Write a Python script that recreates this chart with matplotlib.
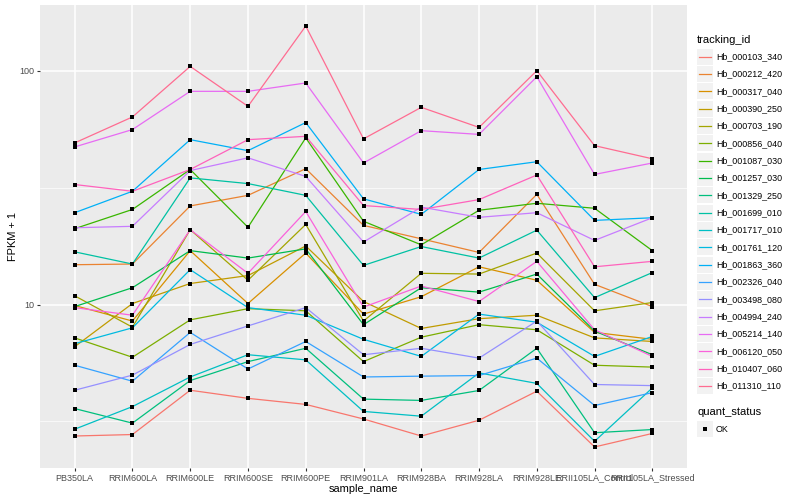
import numpy as np
import matplotlib
matplotlib.use("Agg")
import matplotlib.pyplot as plt
from matplotlib.lines import Line2D
from matplotlib.patches import Rectangle

plt.rcParams['font.family'] = ['Liberation Sans', 'DejaVu Sans']

samples = ['PB350LA', 'RRIM600LA', 'RRIM600LE', 'RRIM600SE', 'RRIM600PE',
           'RRIM901LA', 'RRIM928BA', 'RRIM928LA', 'RRIM928LE',
           'RRII105LA_Control', 'RRII105LA_Stressed']

# FPKM + 1 per sample
hb_000103_340 = [2.74, 2.78, 4.3, 3.97, 3.74, 3.24, 2.74, 3.2, 4.26, 2.46, 2.81]
hb_000212_420 = [14.8, 14.9, 26.4, 29.3, 38.1, 21.8, 19.1, 16.7, 29.6, 12.2, 9.8]
hb_000317_040 = [9.9, 8.5, 17.0, 10.1, 16.6, 9.1, 10.8, 14.5, 12.7, 7.6, 7.1]
hb_000390_250 = [6.6, 10.1, 12.3, 13.3, 17.8, 10.3, 7.9, 8.7, 9.0, 7.2, 6.95]
hb_000703_190 = [10.9, 8.0, 20.9, 12.7, 22.0, 8.5, 13.6, 13.5, 16.6, 9.4, 10.2]
hb_000856_040 = [7.2, 5.95, 8.6, 9.6, 9.4, 5.7, 7.25, 8.2, 7.8, 5.5, 5.4]
hb_001087_030 = [21.1, 25.5, 37.8, 21.4, 51.6, 22.7, 18.0, 25.3, 27.1, 25.8, 17.0]
hb_001257_030 = [9.8, 11.8, 17.0, 15.8, 17.3, 8.2, 11.8, 11.3, 13.5, 7.7, 6.1]
hb_001329_250 = [3.59, 3.11, 4.73, 5.7, 6.5, 3.94, 3.89, 4.29, 6.5, 2.83, 2.92]
hb_001699_010 = [16.8, 14.9, 34.8, 32.9, 29.3, 14.7, 17.7, 15.8, 20.8, 10.7, 13.7]
hb_001717_010 = [2.93, 3.66, 4.9, 6.1, 5.8, 3.49, 3.33, 5.1, 4.6, 2.6, 4.4]
hb_001761_120 = [6.8, 7.95, 14.1, 9.7, 9.0, 7.1, 6.0, 9.1, 8.4, 6.0, 7.3]
hb_001863_360 = [24.7, 30.5, 50.7, 45.5, 60.0, 28.3, 24.3, 37.8, 40.8, 22.9, 23.5]
hb_002326_040 = [5.5, 4.7, 7.6, 5.3, 6.95, 4.9, 4.94, 4.97, 5.9, 3.7, 4.2]
hb_003498_080 = [4.3, 4.99, 6.75, 8.1, 9.7, 6.1, 6.5, 5.9, 8.5, 4.55, 4.5]
hb_004994_240 = [21.3, 21.6, 37.4, 42.4, 35.3, 18.5, 26.1, 23.6, 24.7, 18.8, 23.5]
hb_005214_140 = [47.2, 56.0, 81.6, 81.6, 88.6, 40.3, 55.4, 53.4, 94.2, 36.0, 40.3]
hb_006120_050 = [9.7, 9.0, 20.9, 13.6, 25.0, 9.75, 12.0, 10.3, 15.3, 7.8, 6.0]
hb_010407_060 = [32.6, 30.5, 37.8, 50.7, 52.4, 26.5, 25.5, 28.1, 35.8, 14.5, 15.3]
hb_011310_110 = [49.1, 63.4, 104.3, 70.4, 155.2, 51.1, 69.7, 57.2, 100.0, 47.8, 42.0]

tracking_ids = ['Hb_000103_340', 'Hb_000212_420', 'Hb_000317_040', 'Hb_000390_250',
                'Hb_000703_190', 'Hb_000856_040', 'Hb_001087_030', 'Hb_001257_030',
                'Hb_001329_250', 'Hb_001699_010', 'Hb_001717_010', 'Hb_001761_120',
                'Hb_001863_360', 'Hb_002326_040', 'Hb_003498_080', 'Hb_004994_240',
                'Hb_005214_140', 'Hb_006120_050', 'Hb_010407_060', 'Hb_011310_110']
series = [hb_000103_340, hb_000212_420, hb_000317_040, hb_000390_250,
          hb_000703_190, hb_000856_040, hb_001087_030, hb_001257_030,
          hb_001329_250, hb_001699_010, hb_001717_010, hb_001761_120,
          hb_001863_360, hb_002326_040, hb_003498_080, hb_004994_240,
          hb_005214_140, hb_006120_050, hb_010407_060, hb_011310_110]

# ggplot hue palette, 20 levels
colors = ['#F8766D', '#EA8331', '#D89000', '#C09B00', '#A3A500', '#7CAE00',
          '#39B600', '#00BB4E', '#00BF7D', '#00C1A3', '#00BFC4', '#00BAE0',
          '#00B0F6', '#35A2FF', '#9590FF', '#C77CFF', '#E76BF3', '#FA62DB',
          '#FF62BC', '#FF6C91']

W, H = 800, 500
fig = plt.figure(figsize=(8, 5), dpi=100)
ax = fig.add_axes([40 / W, 1 - 468 / H, 647 / W, 463 / H])
ax.set_facecolor('#EBEBEB')

x = np.arange(len(samples))
for vals, c in zip(series, colors):
    ax.plot(x, vals, color=c, lw=0.9, zorder=3)
for vals in series:
    ax.plot(x, vals, ls='none', marker='s', ms=3.0, mfc='black', mec='black',
            mew=0, zorder=4)

ax.set_yscale('log')
allv = np.log10(np.concatenate([np.asarray(s) for s in series]))
lo, hi = allv.min(), allv.max()
pad = 0.05 * (hi - lo)
ax.set_ylim(10 ** (lo - pad), 10 ** (hi + pad))
ax.set_xlim(-0.6, len(samples) - 0.4)

ax.set_yticks([10, 100])
ax.set_yticklabels(['10', '100'])
ax.set_yticks([10 ** 0.5, 10 ** 1.5], minor=True)
ax.yaxis.set_minor_formatter(matplotlib.ticker.NullFormatter())
ax.set_xticks(x)
ax.set_xticklabels(samples)

ax.grid(which='major', color='white', lw=1.1, zorder=0)
ax.grid(which='minor', axis='y', color='white', lw=0.5, zorder=0)
ax.set_axisbelow(True)
for sp in ax.spines.values():
    sp.set_visible(False)
ax.tick_params(which='major', length=2.5, width=0.8, color='#333333',
               labelsize=6.5, labelcolor='#4D4D4D', pad=1.5)
ax.tick_params(which='minor', length=0)

ax.set_xlabel('sample_name', fontsize=7.9, labelpad=1)
ax.set_ylabel('FPKM + 1', fontsize=7.9, labelpad=1)

# legend drawn ggplot-style with grey key boxes
def fx(px):
    return px / W

def fy(py):
    return 1 - py / H

fig.text(fx(697), fy(40), 'tracking_id', fontsize=8, va='center', ha='left')
row = 17.33
for i, (tid, c) in enumerate(zip(tracking_ids, colors)):
    yc = 56.7 + i * row
    fig.add_artist(Rectangle((fx(697), fy(yc + 8)), 16 / W, 16 / H,
                             transform=fig.transFigure, facecolor='#F2F2F2',
                             edgecolor='none'))
    fig.add_artist(Line2D([fx(699), fx(711)], [fy(yc), fy(yc)],
                          transform=fig.transFigure, color=c, lw=0.9))
    fig.text(fx(716), fy(yc), tid, fontsize=6.4, va='center', ha='left')

fig.text(fx(697), fy(412), 'quant_status', fontsize=8, va='center', ha='left')
fig.add_artist(Rectangle((fx(697), fy(429 + 8)), 16 / W, 16 / H,
                         transform=fig.transFigure, facecolor='#F2F2F2',
                         edgecolor='none'))
fig.add_artist(Line2D([fx(705)], [fy(429)], transform=fig.transFigure,
                      marker='s', ms=3.0, color='black', mew=0))
fig.text(fx(716), fy(429), 'OK', fontsize=6.4, va='center', ha='left')

fig.savefig('out.png', dpi=100)
